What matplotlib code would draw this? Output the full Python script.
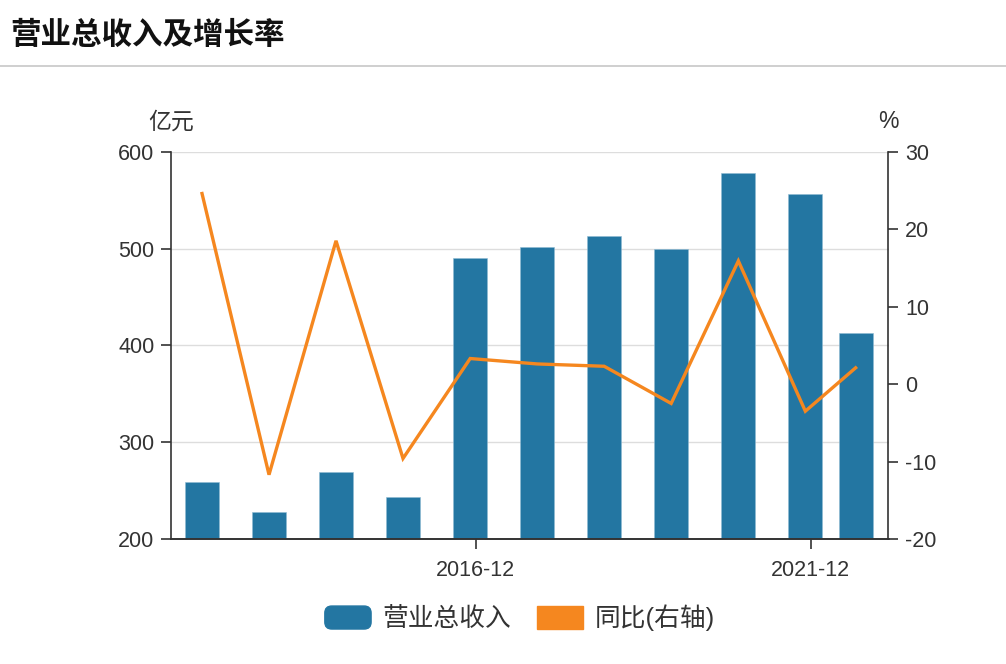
from datetime import date

import matplotlib
matplotlib.use("Agg")
import matplotlib.dates as mdates
import matplotlib.pyplot as plt
from matplotlib.legend_handler import HandlerPatch
from matplotlib.lines import Line2D
from matplotlib.patches import FancyBboxPatch, Patch

plt.rcParams["font.family"] = ["Liberation Sans", "Noto Sans CJK SC", "DejaVu Sans"]
plt.rcParams["axes.unicode_minus"] = False

# data
periods = [
    date(2012, 12, 1), date(2013, 12, 1), date(2014, 12, 1), date(2015, 12, 1),
    date(2016, 12, 1), date(2017, 12, 1), date(2018, 12, 1), date(2019, 12, 1),
    date(2020, 12, 1), date(2021, 12, 1), date(2022, 9, 1),
]
revenue = [258.5, 227.5, 269.4, 243.0, 489.7, 502.0, 512.7, 499.0, 578.0, 556.7, 413.0]
yoy = [24.6, -11.7, 18.5, -9.6, 3.3, 2.6, 2.3, -2.5, 15.9, -3.5, 2.1]
tick_dates = [date(2016, 12, 31), date(2021, 12, 31)]
tick_labels = ["2016-12", "2021-12"]

BAR_COLOR = "#2376a2"
LINE_COLOR = "#f5871f"
TEXT_COLOR = "#333333"

W, H = 1006, 664
fig = plt.figure(figsize=(W / 100, H / 100), dpi=100)

# title and separator
fig.text(10 / W, 1 - 35 / H, "营业总收入及增长率", fontsize=22, fontweight="bold",
         color="#111111", ha="left", va="center", family=["Noto Sans CJK SC"])
fig.add_artist(Line2D([0, 1], [1 - 66 / H, 1 - 66 / H], color="#cccccc", lw=1.3))

left, right, top, bottom = 171, 888.5, 151.7, 539
ax = fig.add_axes([left / W, 1 - bottom / H, (right - left) / W, (bottom - top) / H])
ax2 = ax.twinx()

x = mdates.date2num(periods)
ax.bar(x, revenue, width=186, color=BAR_COLOR, edgecolor="#8fbad3", linewidth=0.4, zorder=2)
ax2.plot(x, yoy, color=LINE_COLOR, lw=2.4, zorder=3, solid_joinstyle="miter")

ax.set_xlim(mdates.date2num(date(2012, 6, 15)), mdates.date2num(date(2023, 2, 27)))
ax.set_ylim(200, 600)
ax.set_yticks([200, 300, 400, 500, 600])
ax2.set_ylim(-20, 30)
ax2.set_yticks([-20, -10, 0, 10, 20, 30])

ax.set_xticks(mdates.date2num(tick_dates))
ax.set_xticklabels(tick_labels)

ax.grid(axis="y", color="#dddddd", lw=1.0, zorder=0)
ax.set_axisbelow(True)

for a in (ax, ax2):
    a.spines["top"].set_visible(False)
    for s in ("left", "right", "bottom"):
        a.spines[s].set_color(TEXT_COLOR)
        a.spines[s].set_linewidth(1.2)
    a.tick_params(colors=TEXT_COLOR, labelsize=15.5, width=1.2, length=7, direction="out")
ax.spines["right"].set_visible(False)
ax2.spines["left"].set_visible(False)
ax.tick_params(axis="y", pad=5)
ax2.tick_params(axis="y", pad=5)
ax.tick_params(axis="x", pad=8)

ax.text(0, 1.077, "亿元", transform=ax.transAxes, ha="center", va="center",
        fontsize=16.5, color=TEXT_COLOR)
ax.text(1, 1.077, "%", transform=ax.transAxes, ha="center", va="center",
        fontsize=16.5, color=TEXT_COLOR)


def rounded_patch(legend, orig_handle, xdescent, ydescent, width, height, fontsize):
    return FancyBboxPatch((-xdescent, -ydescent), width, height,
                          boxstyle="round,pad=0,rounding_size=5")


handles = [Patch(color=BAR_COLOR, label="营业总收入"), Patch(color=LINE_COLOR, label="同比(右轴)")]
fig.legend(handles=handles, loc="center", bbox_to_anchor=(520 / W, 1 - 618 / H), ncol=2,
           frameon=False, fontsize=18.5, handlelength=1.8, handleheight=1.0,
           handletextpad=0.45, columnspacing=1.0, labelcolor=TEXT_COLOR,
           handler_map={handles[0]: HandlerPatch(patch_func=rounded_patch)})

fig.savefig("out.png", dpi=100)
